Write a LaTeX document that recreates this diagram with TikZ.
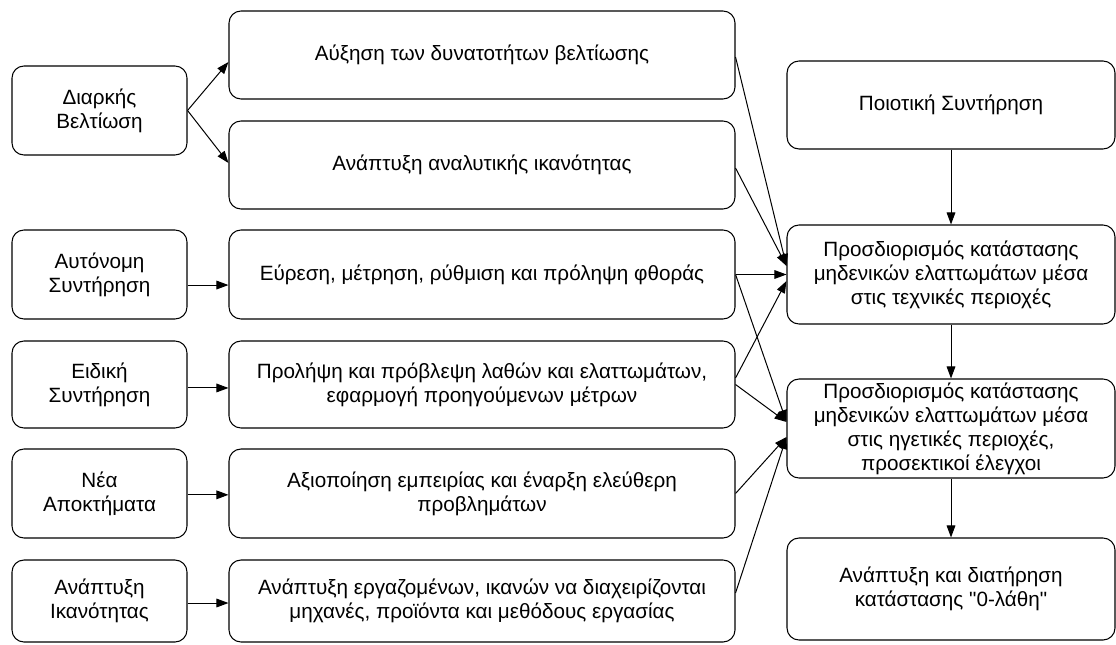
\documentclass[tikz,border=0pt]{standalone}
\usepackage{fontspec}
\setmainfont{Liberation Sans}[Ligatures=TeXOff]
\usetikzlibrary{arrows.meta}
\begin{document}
\begin{tikzpicture}[x=0.75pt,y=-0.75pt,
  box/.style={draw=black, line width=0.8pt, rounded corners=9pt, align=center,
    font=\fontsize{15.5}{18}\selectfont, inner sep=2pt},
  lbox/.style={box, minimum width=131.25pt},
  mbox/.style={box, minimum width=379.5pt, minimum height=66pt},
  rbox/.style={box, minimum width=246pt},
  arr/.style={-{Triangle[length=9pt,width=6.5pt]}, line width=0.75pt}]
\useasboundingbox (0,0) rectangle (1116,645);
% left column
\node[lbox, minimum height=66.75pt] (L1) at (99.5,110.5) {Διαρκής\\Βελτίωση};
\node[lbox, minimum height=66.75pt] (L3) at (99.5,274.5) {Αυτόνομη\\Συντήρηση};
\node[lbox, minimum height=65.25pt] (L4) at (99.5,384.5) {Ειδική\\Συντήρηση};
\node[lbox, minimum height=66.75pt] (L5) at (99.5,493.5) {Νέα\\Αποκτήματα};
\node[lbox, minimum height=61.5pt] (L6) at (99.5,601) {Ανάπτυξη\\Ικανότητας};
% middle column
\node[mbox] (M1) at (482,55) {Αύξηση των δυνατοτήτων βελτίωσης};
\node[mbox] (M2) at (482,165) {Ανάπτυξη αναλυτικής ικανότητας};
\node[mbox, minimum height=66.75pt] (M3) at (482,274.5) {Εύρεση, μέτρηση, ρύθμιση και πρόληψη φθοράς};
\node[mbox, minimum height=65.25pt] (M4) at (482,384.5) {Προλήψη και πρόβλεψη λαθών και ελαττωμάτων,\\εφαρμογή προηγούμενων μέτρων};
\node[mbox, minimum height=66.75pt] (M5) at (482,493.5) {Αξιοποίηση εμπειρίας και έναρξη ελεύθερη\\προβλημάτων};
\node[mbox, minimum height=61.5pt] (M6) at (482,601) {Ανάπτυξη εργαζομένων, ικανών να διαχειρίζονται\\μηχανές, προϊόντα και μεθόδους εργασίας};
% right column
\node[rbox, minimum height=66pt] (R1) at (951,105) {Ποιοτική Συντήρηση};
\node[rbox, minimum height=74.25pt] (R2) at (951,274.5) {Προσδιορισμός κατάστασης\\μηδενικών ελαττωμάτων μέσα\\στις τεχνικές περιοχές};
\node[rbox, minimum height=74.25pt] (R3) at (951,428.5) {Προσδιορισμός κατάστασης\\μηδενικών ελαττωμάτων μέσα\\στις ηγετικές περιοχές,\\προσεκτικοί έλεγχοι};
\node[rbox, minimum height=76.5pt] (R4) at (951,589) {Ανάπτυξη και διατήρηση\\κατάστασης "0-λάθη"};
% left to middle
\draw[arr] (L1.east) -- ([yshift=-5.25pt]M1.west);
\draw[arr] (L1.east) -- ([yshift=1.5pt]M2.west);
\draw[arr] ([yshift=-7.9pt]L3.east) -- ([yshift=-7.9pt]M3.west);
\draw[arr] ([yshift=-2.6pt]L4.east) -- ([yshift=-2.6pt]M4.west);
\draw[arr] ([yshift=-1pt]L5.east) -- ([yshift=-1pt]M5.west);
\draw[arr] ([yshift=-1.5pt]L6.east) -- ([yshift=-1.5pt]M6.west);
% middle to right
\draw[arr] ([yshift=-1.5pt]M1.east) -- ([yshift=6.4pt]R2.west);
\draw[arr] ([yshift=-2.25pt]M2.east) -- ([yshift=6.4pt]R2.west);
\draw[arr] (M3.east) -- (R2.west);
\draw[arr] (M3.east) -- ([yshift=4.9pt]R3.west);
\draw[arr] ([yshift=4.9pt]M4.east) -- ([yshift=-4.9pt]R2.west);
\draw[arr] (M4.east) -- ([yshift=4.9pt]R3.west);
\draw[arr] (M5.east) -- ([yshift=-6.4pt]R3.west);
\draw[arr] ([yshift=6pt]M6.east) -- ([yshift=-6.4pt]R3.west);
% right column chain
\draw[arr] (R1) -- (R2);
\draw[arr] (R2) -- (R3);
\draw[arr] (R3) -- (R4);
\end{tikzpicture}
\end{document}
